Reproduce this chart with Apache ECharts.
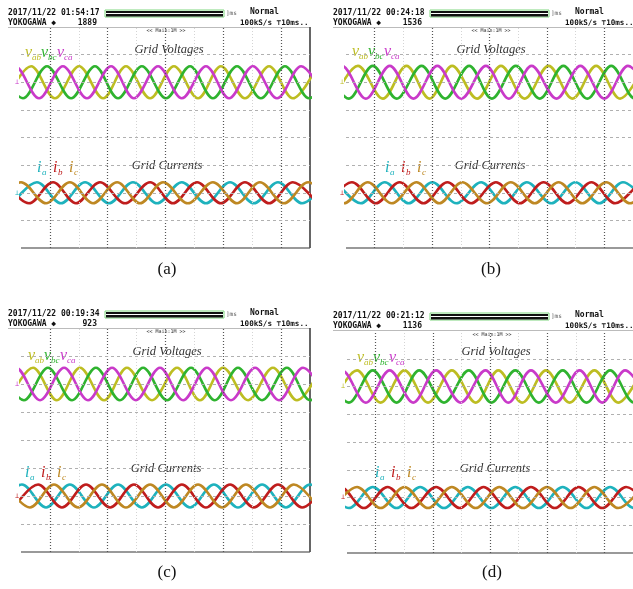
<!DOCTYPE html>
<html>
<head>
<meta charset="utf-8">
<script src="https://cdn.jsdelivr.net/npm/echarts@6.0.0/dist/echarts.min.js"></script>
<style>
  html, body { margin: 0; padding: 0; background: #fff; }
  #chart { width: 633px; height: 589px; }
</style>
</head>
<body>
<div id="chart"></div>
<script>
// times (ms) of the crests (Pk) and troughs (Tr) of each trace, read off the four scope shots
// screen spans 0..120 ms, 10 ms/div on the scope
const aVabPk = [4.2, 24.1, 43.6, 63.5, 83.0, 103.0, 122.9]
const aVabTr = [-5.8, 14.1, 34.1, 53.6, 73.5, 93.0, 112.9]
const aVbcPk = [-9.1, 10.8, 30.7, 50.2, 70.2, 89.7, 109.6, 129.5]
const aVbcTr = [0.8, 20.8, 40.3, 60.2, 79.7, 99.6, 119.6]
const aVcaPk = [-2.5, 17.4, 37.4, 56.9, 76.8, 96.3, 116.3]
const aVcaTr = [-12.4, 7.5, 27.4, 46.9, 66.8, 86.4, 106.3, 126.2]
const aIaPk = [6.6, 26.6, 46.5, 66.8, 86.8, 106.7, 126.6]
const aIaTr = [-3.3, 16.6, 36.5, 56.5, 76.8, 96.7, 116.7]
const aIbPk = [-6.6, 13.3, 32.8, 53.6, 73.1, 93.0, 112.9]
const aIbTr = [3.3, 22.8, 43.2, 63.1, 83.0, 103.0, 122.9]
const aIcPk = [0.0, 20.3, 39.9, 59.0, 79.7, 99.2, 119.2]
const aIcTr = [-10.0, 10.4, 29.9, 49.4, 69.3, 89.7, 109.2, 129.1]

const bVabPk = [5.0, 25.3, 44.4, 64.8, 84.7, 104.6, 124.6]
const bVabTr = [-5.0, 15.4, 34.9, 54.8, 74.7, 94.7, 114.6]
const bVbcPk = [-8.7, 11.2, 31.6, 51.5, 71.0, 90.9, 110.9, 130.8]
const bVbcTr = [1.2, 21.2, 41.5, 61.0, 81.0, 100.9, 120.8]
const bVcaPk = [-1.7, 18.3, 38.2, 58.5, 77.6, 98.0, 117.9]
const bVcaTr = [-11.6, 8.3, 28.2, 48.2, 68.1, 88.0, 108.0, 127.9]
const bIaPk = [-3.7, 16.2, 36.1, 56.5, 75.6, 95.9, 115.8]
const bIaTr = [6.2, 26.2, 46.1, 66.0, 85.9, 105.9, 125.8]
const bIbPk = [2.5, 22.4, 42.4, 62.7, 82.6, 102.6, 122.5]
const bIbTr = [-7.5, 12.5, 32.4, 52.3, 72.7, 92.6, 112.5]
const bIcPk = [-10.8, 9.1, 29.5, 48.6, 68.9, 88.9, 108.8, 128.7]
const bIcTr = [-0.8, 19.1, 39.0, 59.0, 78.9, 98.8, 118.7]

const cVabPk = [5.0, 24.5, 44.0, 64.8, 83.9, 104.6, 124.6]
const cVabTr = [-5.0, 14.9, 34.5, 54.4, 74.3, 94.3, 114.6]
const cVbcPk = [-8.7, 11.2, 31.1, 50.7, 70.6, 90.1, 110.4, 130.4]
const cVbcTr = [1.2, 21.2, 41.1, 60.6, 80.5, 100.1, 120.0]
const cVcaPk = [-2.1, 17.9, 37.8, 57.7, 77.2, 97.2, 117.1]
const cVcaTr = [-12.0, 7.9, 27.8, 47.7, 67.3, 87.2, 107.1, 127.1]
const cIaPk = [0.4, 20.3, 40.3, 60.2, 80.1, 100.1, 120.0]
const cIaTr = [-9.5, 10.4, 30.3, 50.2, 70.2, 90.1, 110.0, 130.0]
const cIbPk = [7.1, 27.0, 46.9, 66.8, 86.8, 106.7, 126.6]
const cIbTr = [-2.9, 17.0, 37.0, 56.9, 76.8, 96.7, 116.7]
const cIcPk = [-6.2, 13.7, 33.6, 53.6, 73.5, 93.4, 113.3]
const cIcTr = [3.7, 23.7, 43.6, 63.5, 83.5, 103.4, 123.3]

const dVabPk = [4.2, 24.1, 44.0, 63.5, 83.5, 103.8, 123.7]
const dVabTr = [-5.8, 14.1, 34.0, 54.0, 73.5, 93.4, 113.8]
const dVbcPk = [-9.1, 10.8, 30.3, 51.1, 70.6, 90.5, 110.4, 130.3]
const dVbcTr = [0.8, 20.8, 40.7, 60.6, 80.5, 100.5, 120.4]
const dVcaPk = [-2.1, 17.9, 37.4, 58.1, 77.2, 97.6, 116.7]
const dVcaTr = [-12.0, 7.9, 27.8, 47.7, 67.7, 87.6, 107.1, 126.6]
const dIaPk = [-9.1, 10.8, 30.7, 50.7, 70.6, 90.5, 110.4, 130.3]
const dIaTr = [0.8, 20.8, 40.7, 60.6, 80.5, 100.5, 120.4]
const dIbPk = [-2.9, 17.0, 37.4, 57.3, 77.2, 97.2, 117.1]
const dIbTr = [-12.8, 7.1, 27.0, 47.3, 67.3, 87.2, 107.1, 127.1]
const dIcPk = [4.2, 24.1, 44.0, 63.9, 83.9, 103.8, 123.7]
const dIcTr = [-5.8, 14.1, 34.0, 54.0, 73.9, 93.8, 113.8]

// peak amplitude (p.u.) per panel a, b, c, d
const vAmp = [1.0, 1.02, 1.0, 1.0]
const iAmp = [1.0, 1.0, 1.08, 1.0]

// scope header texts per panel
const captions = ['(a)', '(b)', '(c)', '(d)']
const stamps = ['2017/11/22 01:54:17', '2017/11/22 00:24:18', '2017/11/22 00:19:34', '2017/11/22 00:21:12']
const counts = ['1889', '1536', '923', '1136']

// graticule
const majorX = [12, 36, 60, 84, 108]
const minorX = [24, 48, 72, 96]
const divY = [0.5, 1, 1.5, 2, 2.5, 3, 3.5]

const vNames = ['ab', 'bc', 'ca']
const iNames = ['a', 'b', 'c']
const vColors = ['#bdbd22', '#2fb32f', '#c93ac9']
const iColors = ['#1eb2bd', '#bf1d1d', '#be8823']

// layout of the four shots (px)
const panels = [
  { left: 21, top: 27, width: 289, height: 221, hx: 8, hy: 13, rightBorder: true,
    vLab: [25, 53], iLab: [37, 168], vTitle: [169, 50], iTitle: [167, 166], cap: [167, 270],
    v: [[aVabPk, aVabTr], [aVbcPk, aVbcTr], [aVcaPk, aVcaTr]],
    i: [[aIaPk, aIaTr], [aIbPk, aIbTr], [aIcPk, aIcTr]] },
  { left: 346, top: 27, width: 289, height: 221, hx: 333, hy: 13, rightBorder: false,
    vLab: [352, 52], iLab: [385, 168], vTitle: [491, 50], iTitle: [490, 166], cap: [491, 270],
    v: [[bVabPk, bVabTr], [bVbcPk, bVbcTr], [bVcaPk, bVcaTr]],
    i: [[bIaPk, bIaTr], [bIbPk, bIbTr], [bIcPk, bIcTr]] },
  { left: 21, top: 328, width: 289, height: 224, hx: 8, hy: 314, rightBorder: true,
    vLab: [28, 356], iLab: [25, 473], vTitle: [167, 352], iTitle: [166, 469], cap: [167, 573],
    v: [[cVabPk, cVabTr], [cVbcPk, cVbcTr], [cVcaPk, cVcaTr]],
    i: [[cIaPk, cIaTr], [cIbPk, cIbTr], [cIcPk, cIcTr]] },
  { left: 347, top: 331, width: 289, height: 222, hx: 333, hy: 316, rightBorder: false,
    vLab: [357, 358], iLab: [375, 473], vTitle: [496, 352], iTitle: [495, 469], cap: [492, 573],
    v: [[dVabPk, dVabTr], [dVbcPk, dVbcTr], [dVcaPk, dVcaTr]],
    i: [[dIaPk, dIaTr], [dIbPk, dIbTr], [dIcPk, dIcTr]] }
]

// channel offsets and gains in divisions (screen is 4 div tall)
const vCenter = 3, vGain = 0.29
const iCenter = 1, iGain = 0.19

const wave = (pk, tr, amp) =>
  pk.map(t => [t, amp]).concat(tr.map(t => [t, -amp])).sort((p, q) => p[0] - q[0])

const SERIF = '"Liberation Serif", "DejaVu Serif", serif'
const MONO = '"DejaVu Sans Mono", "Liberation Mono", monospace'

const txt = (x, y, text, font, fill, align) => ({
  type: 'text', x, y, silent: true,
  style: { text, font, fill: fill || '#222', textAlign: align || 'left', textVerticalAlign: 'middle' }
})
const line = (x1, y1, x2, y2, stroke, lineWidth) => ({
  type: 'line', silent: true, shape: { x1, y1, x2, y2 }, style: { stroke, lineWidth }
})

const grids = [], xAxes = [], yAxes = [], series = [], graphic = []

panels.forEach((p, g) => {
  grids.push({ left: p.left, top: p.top, width: p.width, height: p.height })
  xAxes.push({ gridIndex: g, type: 'value', min: 0, max: 120, show: false })
  yAxes.push({ gridIndex: g, type: 'value', min: -vCenter / vGain, max: (4 - vCenter) / vGain, show: false })
  yAxes.push({ gridIndex: g, type: 'value', min: -iCenter / iGain, max: (4 - iCenter) / iGain, show: false })
  yAxes.push({ gridIndex: g, type: 'value', min: 0, max: 4, show: false })

  // graticule drawn as mark lines on the division axis
  const marks = []
  minorX.forEach(v => marks.push({ xAxis: v, lineStyle: { color: '#d4d4d4', type: [1, 2], width: 1 } }))
  majorX.forEach(v => marks.push({ xAxis: v, lineStyle: { color: '#555', type: [1, 2], width: 1.2 } }))
  divY.forEach(v => marks.push({ yAxis: v, lineStyle: { color: '#b0b0b0', type: [3, 3], width: 1 } }))
  series.push({
    type: 'line', xAxisIndex: g, yAxisIndex: 3 * g + 2, data: [[-50, -50]],
    symbol: 'none', lineStyle: { opacity: 0 }, silent: true,
    markLine: { silent: true, symbol: ['none', 'none'], label: { show: false }, animation: false, data: marks }
  })

  p.v.forEach((ph, k) => series.push({
    name: 'v' + vNames[k], type: 'line', xAxisIndex: g, yAxisIndex: 3 * g,
    data: wave(ph[0], ph[1], vAmp[g]), smooth: 0.35, symbol: 'none',
    lineStyle: { color: vColors[k], width: 2.6 }
  }))
  p.i.forEach((ph, k) => series.push({
    name: 'i' + iNames[k], type: 'line', xAxisIndex: g, yAxisIndex: 3 * g + 1,
    data: wave(ph[0], ph[1], iAmp[g]), smooth: 0.35, symbol: 'none',
    lineStyle: { color: iColors[k], width: 2.6 }
  }))

  // scope header
  const hx = p.hx, hy = p.hy
  graphic.push(txt(hx, hy, stamps[g], 'bold 8px ' + MONO, '#111'))
  graphic.push(txt(hx, hy + 10, 'YOKOGAWA ◆', 'bold 8px ' + MONO, '#111'))
  graphic.push(txt(hx + 89, hy + 10, counts[g], 'bold 8px ' + MONO, '#111', 'right'))
  graphic.push({ type: 'rect', silent: true, shape: { x: hx + 97, y: hy - 3, width: 119, height: 7 },
    style: { fill: '#fff', stroke: '#7fd67f', lineWidth: 1 } })
  graphic.push({ type: 'rect', silent: true, shape: { x: hx + 98, y: hy - 2, width: 117, height: 2 }, style: { fill: '#111' } })
  graphic.push({ type: 'rect', silent: true, shape: { x: hx + 98, y: hy + 1, width: 117, height: 2.5 }, style: { fill: '#111' } })
  graphic.push(txt(hx + 218, hy, ']ms', '6px ' + MONO, '#555'))
  graphic.push(txt(hx + 242, hy - 1, 'Normal', 'bold 8px ' + MONO, '#111'))
  graphic.push(txt(hx + 232, hy + 10, '100kS/s ⊤10ms..', 'bold 7.6px ' + MONO, '#111'))
  graphic.push(line(hx, hy + 14.5, p.left + p.width, hy + 14.5, '#bbb', 1))
  graphic.push(txt(p.left + 145, p.top + 3.5, '<< Main:1M >>', '5px ' + MONO, '#333', 'center'))

  // screen frame
  graphic.push(line(p.left, p.top + p.height, p.left + p.width, p.top + p.height, '#777', 1.6))
  if (p.rightBorder) {
    graphic.push(line(p.left + p.width, p.top, p.left + p.width, p.top + p.height, '#555', 1.8))
  }

  // trace titles and phase labels
  graphic.push(txt(p.vTitle[0], p.vTitle[1], 'Grid Voltages', 'italic 12.5px ' + SERIF, '#333', 'center'))
  graphic.push(txt(p.iTitle[0], p.iTitle[1], 'Grid Currents', 'italic 12.5px ' + SERIF, '#333', 'center'))
  vNames.forEach((s, k) => {
    const x = p.vLab[0] + k * 16, y = p.vLab[1]
    graphic.push(txt(x, y, 'v', 'italic 16px ' + SERIF, vColors[k]))
    graphic.push(txt(x + 7, y + 5, s, 'italic 9px ' + SERIF, vColors[k]))
  })
  iNames.forEach((s, k) => {
    const x = p.iLab[0] + k * 16, y = p.iLab[1]
    graphic.push(txt(x, y, 'i', 'italic 16px ' + SERIF, iColors[k]))
    graphic.push(txt(x + 5, y + 5, s, 'italic 9px ' + SERIF, iColors[k]))
  })

  // channel ground markers on the left edge
  const vy = p.top + p.height * (1 - vCenter / 4), iy = p.top + p.height * (1 - iCenter / 4)
  graphic.push(txt(p.left - 4, vy, '⊥', '7px ' + MONO, g % 2 ? vColors[0] : vColors[2], 'center'))
  graphic.push(txt(p.left - 4, iy, '⊥', '7px ' + MONO, g === 0 ? iColors[0] : iColors[1], 'center'))

  graphic.push(txt(p.cap[0], p.cap[1], captions[g], '17px ' + SERIF, '#111', 'center'))
})

const chart = echarts.init(document.getElementById('chart'), null, { renderer: 'canvas' })
chart.setOption({
  backgroundColor: '#fff',
  animation: false,
  grid: grids,
  xAxis: xAxes,
  yAxis: yAxes,
  series,
  graphic
})
</script>
</body>
</html>
